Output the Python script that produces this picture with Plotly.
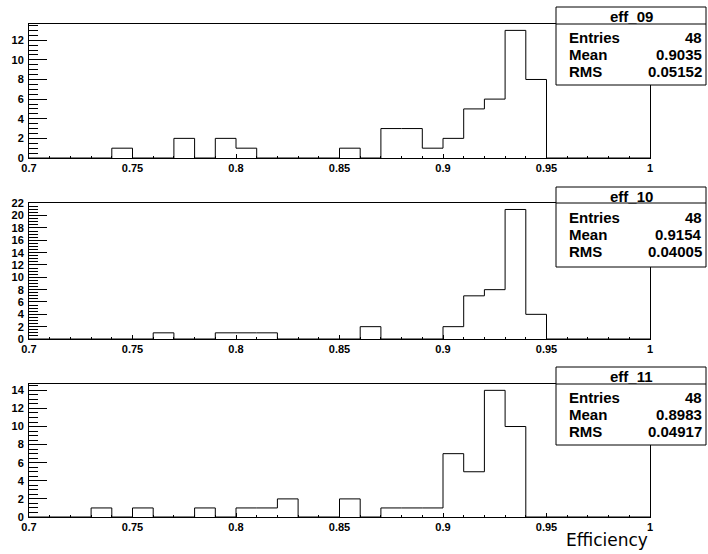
import plotly.graph_objects as go

W, H = 708, 554

# bin edges 0.70 .. 1.00, width 0.01 (30 bins)
bin_lo = 0.70
bin_w = 0.01
n_bins = 30

names = ["eff_09", "eff_10", "eff_11"]
entries = [48, 48, 48]
means = ["0.9035", "0.9154", "0.8983"]
rmss = ["0.05152", "0.04005", "0.04917"]

counts_09 = [0, 0, 0, 0, 1, 0, 0, 2, 0, 2,
             1, 0, 0, 0, 0, 1, 0, 3, 3, 1,
             2, 5, 6, 13, 8, 0, 0, 0, 0, 0]
counts_10 = [0, 0, 0, 0, 0, 0, 1, 0, 0, 1,
             1, 1, 0, 0, 0, 0, 2, 0, 0, 0,
             2, 7, 8, 21, 4, 0, 0, 0, 0, 0]
counts_11 = [0, 0, 0, 1, 0, 1, 0, 0, 1, 0,
             1, 1, 2, 0, 0, 2, 0, 1, 1, 1,
             7, 5, 14, 10, 0, 0, 0, 0, 0, 0]
all_counts = [counts_09, counts_10, counts_11]

x_tick_vals = [0.7, 0.75, 0.8, 0.85, 0.9, 0.95, 1.0]
x_tick_text = ["0.7", "0.75", "0.8", "0.85", "0.9", "0.95", "1"]

# layout in pixels
plot_left, plot_right = 29, 650
panel_tb = [(24, 158), (203, 339), (384, 517)]
box_tb = [(7, 24, 85), (187, 203, 267), (367, 384, 445)]
box_lr = (556, 706)

def px(x):
    return x / W

def py(y):
    return 1 - y / H

fig = go.Figure()
tick_font = dict(family="Liberation Sans", size=11, color="black", weight="bold")

edges = [round(bin_lo + i * bin_w, 4) for i in range(n_bins + 1)]
for i, counts in enumerate(all_counts):
    xs = [edges[0]] + edges[:-1] + [edges[-1]]
    ys = [0] + counts + [0]
    ax = "" if i == 0 else str(i + 1)
    fig.add_trace(go.Scatter(x=xs, y=ys, mode="lines", line_shape="hv",
                             line=dict(color="black", width=1),
                             xaxis="x" + ax, yaxis="y" + ax,
                             showlegend=False, hoverinfo="skip"))
    top, bot = panel_tb[i]
    ymax = max(counts) * 1.05
    fig.layout["xaxis" + ax] = dict(
        domain=[px(plot_left), px(plot_right)], anchor="y" + ax,
        range=[edges[0], edges[-1]], tickmode="array",
        tickvals=x_tick_vals, ticktext=x_tick_text,
        ticks="inside", ticklen=4, tickcolor="black", tickwidth=1,
        minor=dict(tick0=0.7, dtick=0.01, ticks="inside", ticklen=2,
                   tickcolor="black", tickwidth=1, showgrid=False),
        showline=True, linecolor="black", linewidth=1, mirror=True,
        showgrid=False, zeroline=False, tickfont=tick_font, ticklabelstandoff=0,
        automargin=False)
    fig.layout["yaxis" + ax] = dict(
        domain=[py(bot), py(top)], anchor="x" + ax,
        range=[0, ymax], tick0=0, dtick=2,
        ticks="inside", ticklen=18, tickcolor="black", tickwidth=1,
        minor=dict(dtick=0.5, ticks="inside", ticklen=9,
                   tickcolor="black", tickwidth=1, showgrid=False),
        showline=True, linecolor="black", linewidth=1, mirror=True,
        showgrid=False, zeroline=False, tickfont=tick_font, ticklabelstandoff=2,
        automargin=False)

shapes = []
annotations = []
stat_font = dict(family="Liberation Sans", size=15, color="black", weight="bold")
for i in range(3):
    t, s, b = box_tb[i]
    shapes.append(dict(type="rect", xref="paper", yref="paper",
                       x0=px(box_lr[0]), x1=px(box_lr[1]), y0=py(b), y1=py(t),
                       line=dict(color="black", width=1), fillcolor="white", layer="above"))
    shapes.append(dict(type="line", xref="paper", yref="paper",
                       x0=px(box_lr[0]), x1=px(box_lr[1]), y0=py(s), y1=py(s),
                       line=dict(color="black", width=1), layer="above"))
    annotations.append(dict(text=names[i], x=px((box_lr[0] + box_lr[1]) / 2), y=py(t + 9.5),
                            xref="paper", yref="paper", xanchor="center", yanchor="middle",
                            showarrow=False, font=stat_font))
    rows = [("Entries", str(entries[i])), ("Mean", means[i]), ("RMS", rmss[i])]
    for k, (lab, val) in enumerate(rows):
        yy = py(t + 30 + 17 * k)
        annotations.append(dict(text=lab, x=px(567), y=yy, xref="paper", yref="paper",
                                xanchor="left", yanchor="middle", showarrow=False, font=stat_font))
        annotations.append(dict(text=val, x=px(704), y=yy, xref="paper", yref="paper",
                                xanchor="right", yanchor="middle", showarrow=False, font=stat_font))

annotations.append(dict(text="Efficiency", x=px(650), y=py(552), xref="paper", yref="paper",
                        xanchor="right", yanchor="bottom", showarrow=False,
                        font=dict(family="DejaVu Sans", size=17, color="black")))

fig.update_layout(template="none", width=W, height=H, margin=dict(l=0, r=0, t=0, b=0),
                  paper_bgcolor="white", plot_bgcolor="white",
                  shapes=shapes, annotations=annotations)

fig.write_html("out.html", config={"displayModeBar": False},
               post_script="document.body.style.margin='0';")
